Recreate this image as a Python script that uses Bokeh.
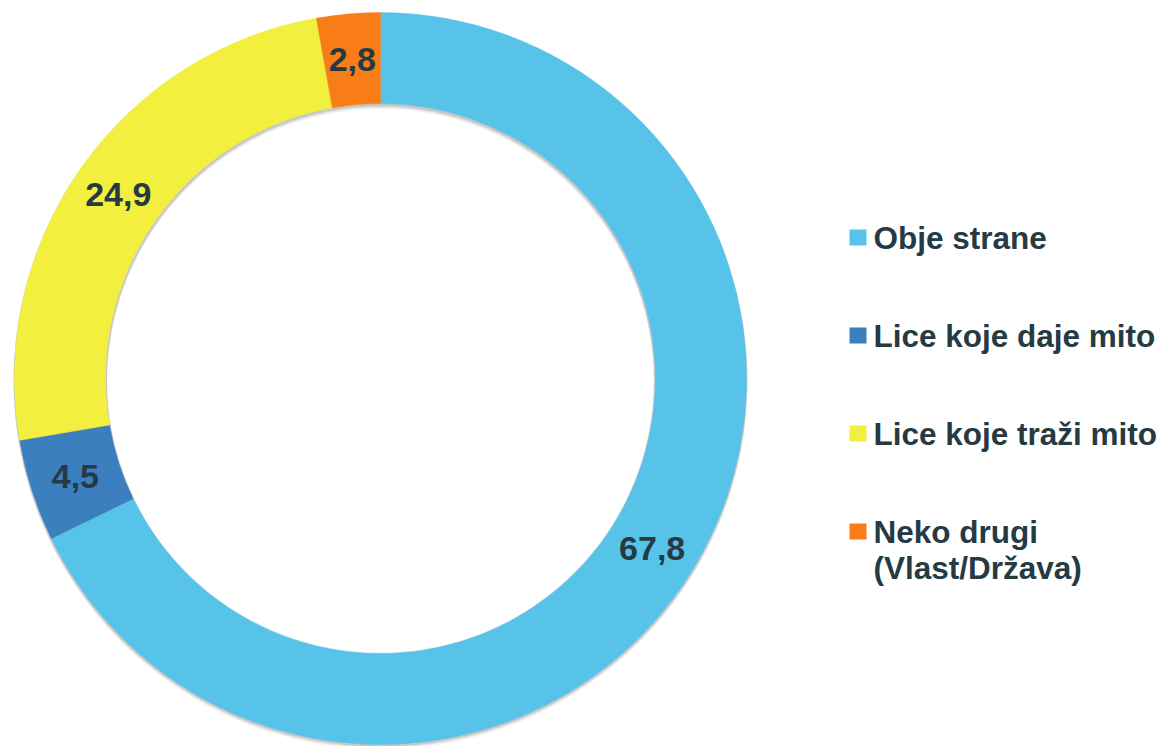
import math
from bokeh.plotting import figure
from bokeh.models import Range1d, ColumnDataSource
from bokeh.core.properties import value
from bokeh.embed import file_html
from bokeh.resources import INLINE

categories = ["Obje strane", "Lice koje daje mito", "Lice koje traži mito", "Neko drugi\n(Vlast/Država)"]
values = [67.8, 4.5, 24.9, 2.8]
labels = ["67,8", "4,5", "24,9", "2,8"]
colors = ["#57c3e9", "#3b7fbf", "#f3ef3e", "#f87d17"]

W, H = 1166, 746
R_OUT, R_IN = 366, 275
FONT = value("Liberation Sans")
TXT = "#263a44"

p = figure(width=W, height=H, output_backend="svg", toolbar_location=None,
           x_range=Range1d(-380, 786), y_range=Range1d(-368, 378),
           min_border=0)
p.axis.visible = False
p.grid.visible = False
p.outline_line_color = None
p.background_fill_color = "white"
p.border_fill_color = "white"

# wedge angles (clockwise from top)
total = sum(values)
starts, ends, mids = [], [], []
acc = 0.0
for v in values:
    a0 = math.pi / 2 - 2 * math.pi * acc / total
    acc += v
    a1 = math.pi / 2 - 2 * math.pi * acc / total
    starts.append(a0)
    ends.append(a1)
    mids.append((a0 + a1) / 2)

# soft shadow
for off, alpha in [(4, 0.05), (2.5, 0.08), (1.2, 0.10)]:
    p.annulus(x=[0], y=[-off], inner_radius=R_IN - 1.5, outer_radius=R_OUT + 1,
              fill_color="black", fill_alpha=alpha, line_color=None)

src = ColumnDataSource(dict(start=starts, end=ends, color=colors))
p.annular_wedge(x=0, y=0, inner_radius=R_IN, outer_radius=R_OUT,
                start_angle="start", end_angle="end", direction="clock",
                fill_color="color", line_color="color", line_width=0.5, source=src)

rm = (R_IN + R_OUT) / 2
lx = [rm * math.cos(a) for a in mids]
ly = [rm * math.sin(a) for a in mids]
p.text(x=lx, y=ly, text=labels, text_font=FONT, text_font_style="bold",
       text_font_size="34px", text_color=TXT, text_align="center",
       text_baseline="middle")

# legend
leg_x = 469
row_y = [141, 43, -55, -153]
line_gap = 36
for cat, col, y in zip(categories, colors, row_y):
    p.rect(x=[leg_x + 8.5], y=[y], width=17, height=16, fill_color=col, line_color=None)
    for i, line in enumerate(cat.split("\n")):
        p.text(x=[leg_x + 24], y=[y - i * line_gap], text=[line], text_font=FONT,
               text_font_style="bold", text_font_size="31.5px", text_color=TXT,
               text_align="left", text_baseline="middle")

open("out.html", "w").write(file_html(p, INLINE))
